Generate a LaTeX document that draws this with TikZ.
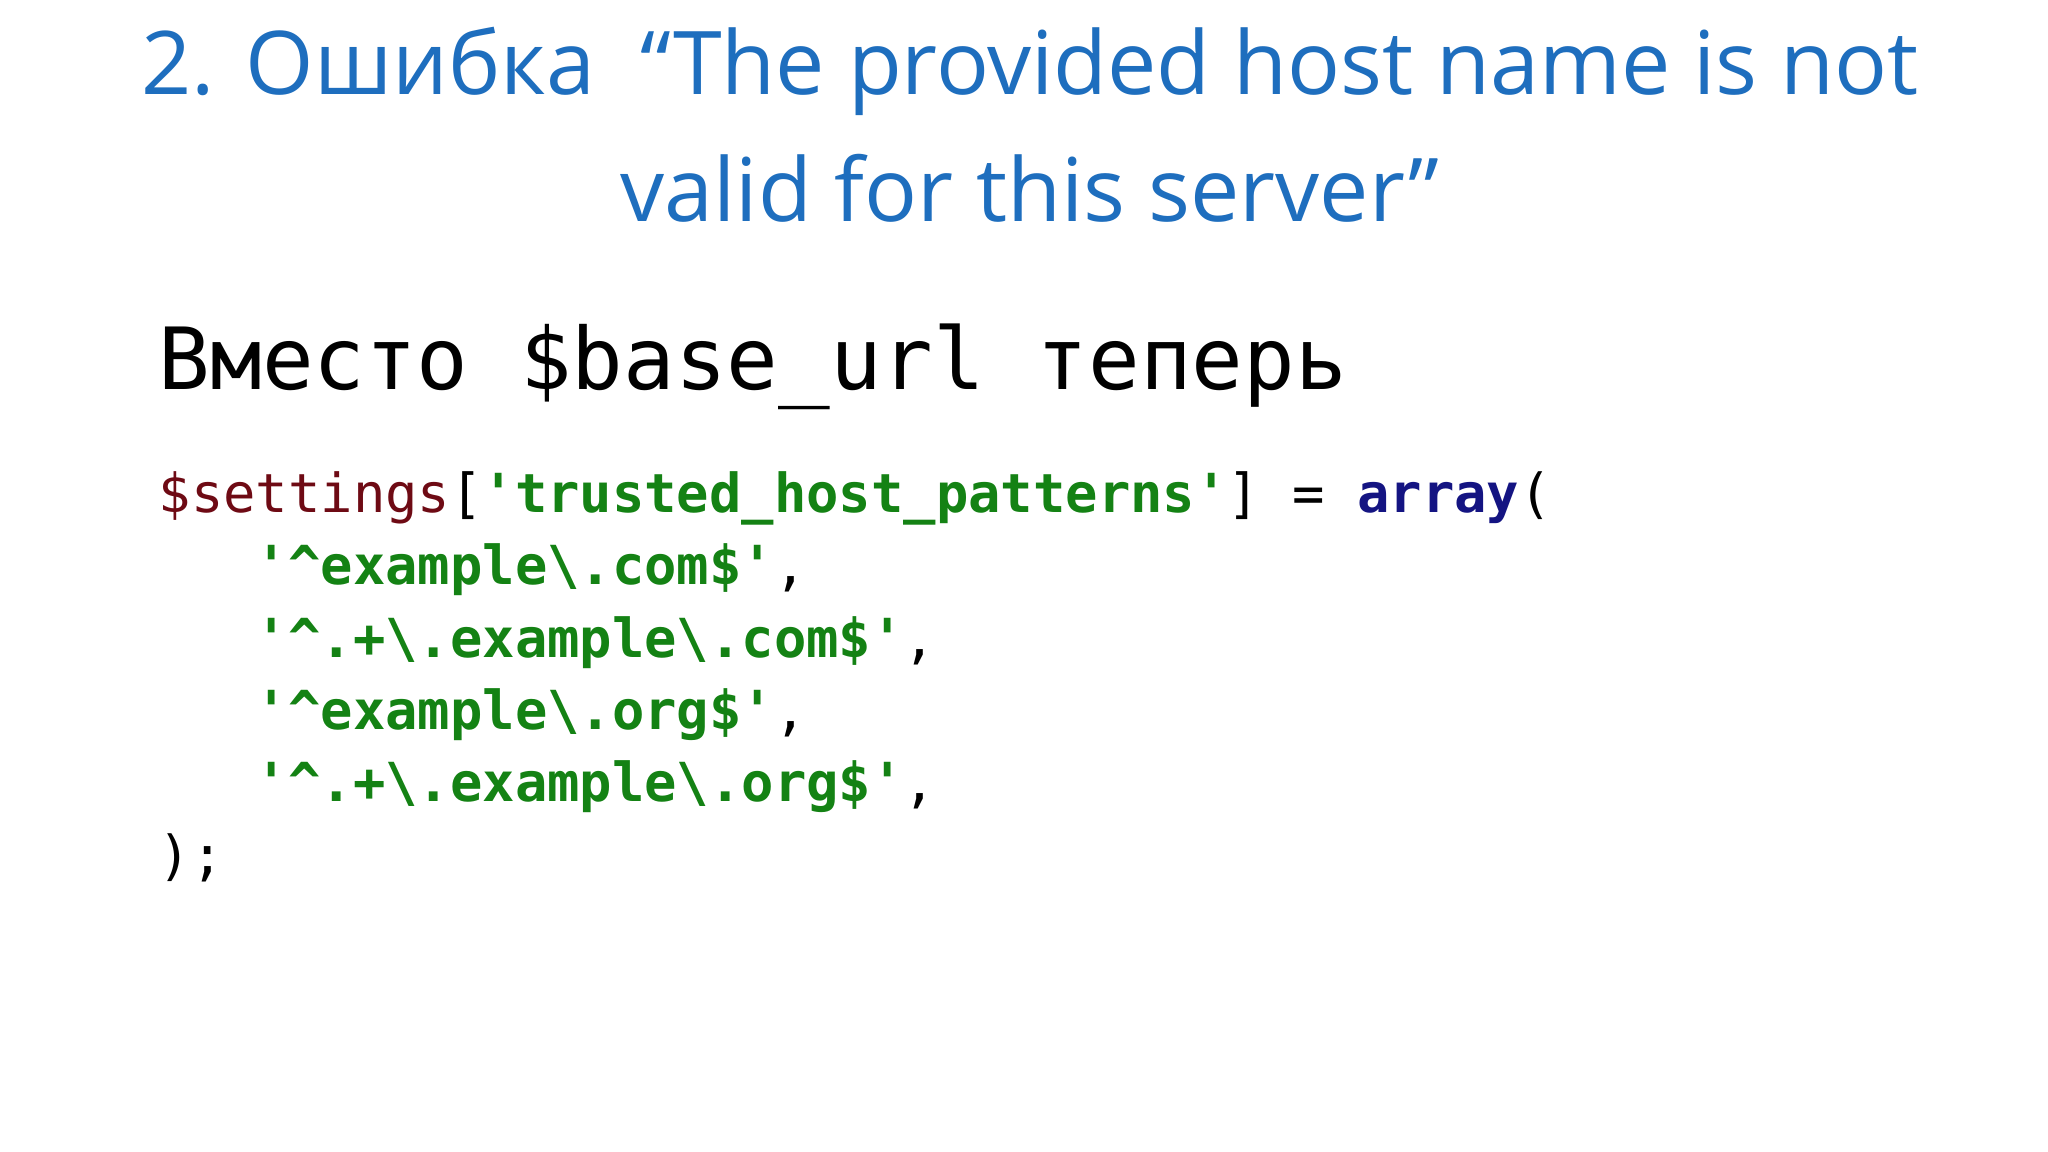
\documentclass[tikz,border=0pt]{standalone}
\usepackage{fontspec}
\setmainfont{Open Sans}
\setmonofont{DejaVu Sans Mono}
\definecolor{ttl}{RGB}{30,110,190}
\definecolor{var}{RGB}{110,10,20}
\definecolor{str}{RGB}{20,130,20}
\definecolor{kw}{RGB}{20,20,130}
\begin{document}
\begin{tikzpicture}[x=0.01cm,y=-0.01cm,
  ttlstyle/.style={text=ttl,font=\fontsize{25}{36}\selectfont,align=center},
  code/.style={anchor=base west,inner sep=0,font=\ttfamily\fontsize{15.3}{18}\selectfont}]
\fill[white] (0,0) rectangle (2048,1152);
\useasboundingbox (0,0) rectangle (2048,1152);
\node[ttlstyle] (title) at (1030,125) {2. Ошибка \ “The provided host name is not\\valid for this server”};
\node[anchor=base west,inner sep=0,font=\ttfamily\fontsize{24.4}{28}\selectfont] (head) at (158,390) {Вместо \$base\_url теперь};
\node[code] (l1) at (158,512) {\textcolor{var}{\$settings}[\textcolor{str}{\bfseries'trusted\_host\_patterns'}] = \textcolor{kw}{\bfseries array}(};
\node[code] (l2) at (158,584) {\ \ \ \textcolor{str}{\bfseries'\textasciicircum example\textbackslash.com\$'},};
\node[code] (l3) at (158,657) {\ \ \ \textcolor{str}{\bfseries'\textasciicircum.+\textbackslash.example\textbackslash.com\$'},};
\node[code] (l4) at (158,729) {\ \ \ \textcolor{str}{\bfseries'\textasciicircum example\textbackslash.org\$'},};
\node[code] (l5) at (158,801) {\ \ \ \textcolor{str}{\bfseries'\textasciicircum.+\textbackslash.example\textbackslash.org\$'},};
\node[code] (l6) at (158,874) {);};
\end{tikzpicture}
\end{document}
